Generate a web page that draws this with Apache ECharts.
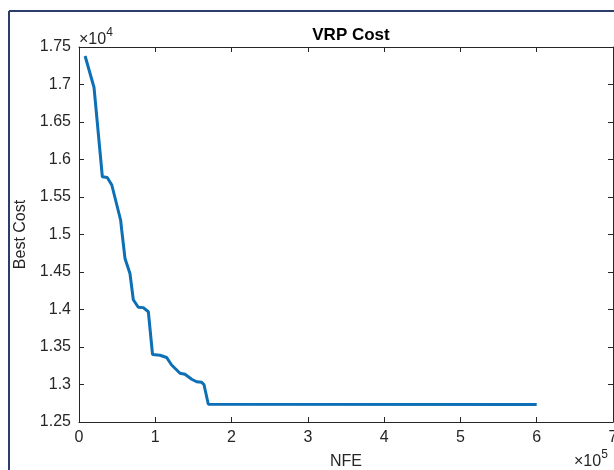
<!DOCTYPE html>
<html>
<head>
<meta charset="utf-8">
<script src="https://cdn.jsdelivr.net/npm/echarts@6/dist/echarts.min.js"></script>
<style>
  html, body { margin: 0; padding: 0; background: #fff; }
  #chart { width: 614px; height: 470px; }
</style>
</head>
<body>
<div id="chart"></div>
<script>
// NFE values (x) and best cost (y)
const nfe = [8000, 19700, 30600, 37000, 43000, 54600, 56000, 60300, 66800, 71200, 77700, 84300, 90900,
    96400, 106200, 114900, 121400, 132400, 138900, 147700, 154200, 160800, 163800, 169500, 600000];
const bestCost = [17380, 16960, 15770, 15760, 15660, 15190, 15060, 14680, 14480, 14130, 14030, 14025, 13970,
    13400, 13390, 13360, 13260, 13150, 13136, 13070, 13037, 13029, 13000, 12736, 12733];
const xTicks = [0, 100000, 200000, 300000, 400000, 500000, 600000, 700000];
const yTicks = [12500, 13000, 13500, 14000, 14500, 15000, 15500, 16000, 16500, 17000, 17500];

const points = nfe.map((v, i) => [v, bestCost[i]]);

const font = 'Liberation Sans, Arial, Helvetica, sans-serif';
const axisColor = '#262626';

function baseX(pos, labels) {
    return {
        type: 'value',
        position: pos,
        min: xTicks[0],
        max: xTicks[xTicks.length - 1],
        interval: 100000,
        axisLine: { show: true, onZero: false, lineStyle: { color: axisColor, width: 1 } },
        axisTick: { show: true, inside: true, length: 5, lineStyle: { color: axisColor } },
        axisLabel: {
            show: labels, color: axisColor, fontSize: 16, fontFamily: font, margin: 8,
            formatter: v => String(v / 100000)
        },
        splitLine: { show: false }
    };
}

function baseY(pos, labels) {
    return {
        type: 'value',
        position: pos,
        min: yTicks[0],
        max: yTicks[yTicks.length - 1],
        interval: 500,
        axisLine: { show: true, onZero: false, lineStyle: { color: axisColor, width: 1 } },
        axisTick: { show: true, inside: true, length: 5, lineStyle: { color: axisColor } },
        axisLabel: {
            show: labels, color: axisColor, fontSize: 16, fontFamily: font, margin: 8,
            formatter: v => String(parseFloat((v / 10000).toFixed(2)))
        },
        splitLine: { show: false }
    };
}

const chart = echarts.init(document.getElementById('chart'));

const xMain = baseX('bottom', true);
xMain.name = 'NFE';
xMain.nameLocation = 'middle';
xMain.nameGap = 32;
xMain.nameTextStyle = { color: axisColor, fontSize: 16, fontFamily: font };

const yMain = baseY('left', true);
yMain.name = 'Best Cost';
yMain.nameLocation = 'middle';
yMain.nameGap = 48;
yMain.nameTextStyle = { color: axisColor, fontSize: 16, fontFamily: font };

const sup = {
    a: { fontSize: 16, fontFamily: font, fill: axisColor, verticalAlign: 'bottom' },
    b: { fontSize: 12, fontFamily: font, fill: axisColor, verticalAlign: 'top', padding: [0, 0, 9, 0] }
};

chart.setOption({
    animation: false,
    backgroundColor: '#fff',
    title: {
        text: 'VRP Cost',
        left: 346,
        top: 22,
        textAlign: 'center',
        textStyle: { color: '#000', fontSize: 17, fontWeight: 'bold', fontFamily: font }
    },
    grid: { left: 79, right: 1, top: 47, bottom: 48, outerBoundsMode: 'none', containLabel: false },
    xAxis: [xMain, baseX('top', false)],
    yAxis: [yMain, baseY('right', false)],
    series: [{
        type: 'line',
        data: points,
        showSymbol: false,
        lineStyle: { color: '#0d6fb5', width: 3 },
        itemStyle: { color: '#0d6fb5' }
    }],
    graphic: [
        // window frame
        { type: 'line', shape: { x1: 9, y1: 11, x2: 9, y2: 470 }, style: { stroke: '#2b3d6b', lineWidth: 2 } },
        { type: 'line', shape: { x1: 9, y1: 11, x2: 614, y2: 11 }, style: { stroke: '#2b3d6b', lineWidth: 2 } },
        { type: 'text', left: 79, top: 27, style: { text: '{a|×10}{b|4}', fill: axisColor, rich: sup } },
        { type: 'text', left: 574, top: 449, style: { text: '{a|×10}{b|5}', fill: axisColor, rich: sup } }
    ]
});
</script>
</body>
</html>
